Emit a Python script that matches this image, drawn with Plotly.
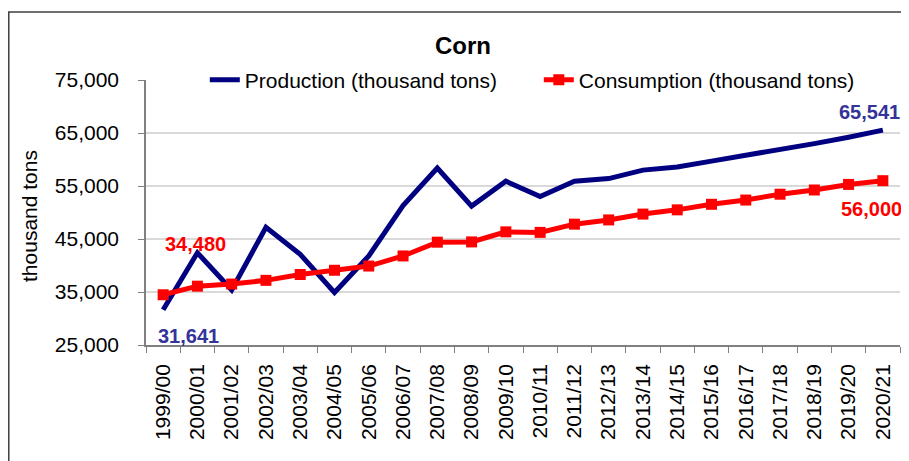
import plotly.graph_objects as go

years = ["1999/00", "2000/01", "2001/02", "2002/03", "2003/04", "2004/05", "2005/06",
         "2006/07", "2007/08", "2008/09", "2009/10", "2010/11", "2011/12", "2012/13",
         "2013/14", "2014/15", "2015/16", "2016/17", "2017/18", "2018/19", "2019/20", "2020/21"]
production = [31641, 42400, 35400, 47200, 42100, 34900, 41800, 51300, 58400, 51200, 55900,
              53000, 55900, 56400, 58000, 58600, 59700, 60750, 61900, 63000, 64200, 65541]
consumption = [34480, 36100, 36500, 37200, 38300, 39100, 39900, 41800, 44400, 44450, 46350,
               46250, 47800, 48600, 49700, 50500, 51550, 52350, 53450, 54250, 55300, 56000]
y_ticks = [25000, 35000, 45000, 55000, 65000, 75000]

FONT = "Liberation Sans, Arial, sans-serif"
NAVY = "#000080"
RED = "#ff0000"
LABEL_BLUE = "#333399"

fig = go.Figure()
fig.add_trace(go.Scatter(x=years, y=production, mode="lines", name="Production (thousand tons)",
                         line=dict(color=NAVY, width=5)))
fig.add_trace(go.Scatter(x=years, y=consumption, mode="lines+markers",
                         name="Consumption (thousand tons)",
                         line=dict(color=RED, width=5),
                         marker=dict(symbol="square", size=11, color=RED)))

blue_lab = dict(family=FONT, size=20, color=LABEL_BLUE)
red_lab = dict(family=FONT, size=20, color=RED)
fig.add_annotation(x=years[0], y=production[0], text="<b>31,641</b>", showarrow=False,
                   xref="x", yref="y", xshift=25, yshift=-26, font=blue_lab)
fig.add_annotation(x=years[-1], y=production[-1], text="<b>65,541</b>", showarrow=False,
                   xref="x", yref="y", xshift=-13, yshift=18, font=blue_lab)
fig.add_annotation(x=years[0], y=consumption[0], text="<b>34,480</b>", showarrow=False,
                   xref="x", yref="y", xshift=32, yshift=51, font=red_lab)
fig.add_annotation(x=years[-1], y=consumption[-1], text="<b>56,000</b>", showarrow=False,
                   xref="x", yref="y", xshift=-11, yshift=-28, font=red_lab)

# chart title
fig.add_annotation(x=0.4204, y=1.132, xref="paper", yref="paper", text="<b>Corn</b>",
                   showarrow=False, xanchor="center", yanchor="middle",
                   font=dict(family=FONT, size=24, color="black"))
# y-axis title
fig.add_annotation(x=-0.1538, y=0.487, xref="paper", yref="paper", text="thousand tons",
                   showarrow=False, textangle=-90, xanchor="center", yanchor="middle",
                   font=dict(family=FONT, size=21, color="black"))

# outer chart frame
fig.add_shape(type="rect", xref="paper", yref="paper", x0=-0.182, x1=1.05, y0=-0.6,
              y1=1.2566, line=dict(color="#404040", width=1.5), layer="below")

fig.update_layout(
    width=909, height=461,
    margin=dict(l=138, r=17, t=72, b=124, autoexpand=False),
    paper_bgcolor="white", plot_bgcolor="white",
    font=dict(family=FONT, size=21, color="black"),
    showlegend=True,
    legend=dict(orientation="h", x=0.078, xanchor="left", y=1.0, yanchor="middle",
                bgcolor="white", font=dict(family=FONT, size=21), entrywidth=289,
                tracegroupgap=0),
    xaxis=dict(type="category", tickangle=-90, showgrid=False, showline=True,
               linecolor="#808080", linewidth=1.5, ticks="outside", tickson="boundaries",
               ticklen=6, tickcolor="#808080", tickfont=dict(family=FONT, size=21),
               ticklabelstandoff=9, automargin=False,
               range=[-0.5, len(years) - 0.5]),
    yaxis=dict(range=[25000, 75000], tickvals=y_ticks, tickformat=",d",
               showgrid=True, gridcolor="#d9d9d9", gridwidth=1.5, showline=True,
               linecolor="#808080", linewidth=1.5, ticks="outside", ticklen=6,
               tickcolor="#808080", tickfont=dict(family=FONT, size=21),
               ticklabelstandoff=15, automargin=False, zeroline=False),
)

fig.write_html("out.html")
